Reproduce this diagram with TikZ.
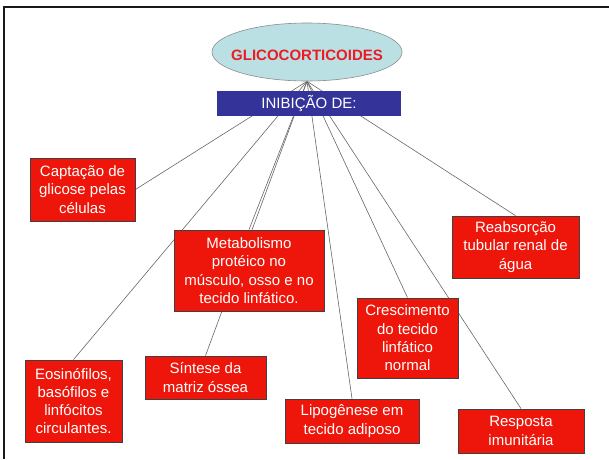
\documentclass[tikz,border=0pt]{standalone}
\usepackage{fontspec}
\setmainfont{Liberation Sans}
\usepackage{tikz}
\usetikzlibrary{shapes,positioning}
\definecolor{caixared}{RGB}{238,22,10}
\definecolor{titulored}{RGB}{236,28,36}
\definecolor{elipsecyan}{RGB}{186,224,227}
\definecolor{inibblue}{RGB}{51,51,153}
\pgfdeclarelayer{background}
\pgfsetlayers{background,main}

\begin{document}
\begin{tikzpicture}[x=1pt,y=-1pt]
    \tikzset{caixa/.style = {shape=rectangle,draw=black!75,line width=0.8pt,fill=caixared,
        text=white,align=center,inner sep=0pt,
        font=\fontsize{15}{18.3}\selectfont}}
    \tikzset{edge/.style = {draw=black!60,line width=0.6pt}}
    \useasboundingbox (0,0) rectangle (609,459);
    % moldura
    \draw[line width=2pt,black!90] (3.7,459) -- (3.7,7) -- (609,7);
    % vertices
    \node[ellipse,draw=black!45,line width=0.6pt,fill=elipsecyan,minimum width=190,minimum height=58,
        inner xsep=-9pt,inner ysep=0pt,text height=16pt,text depth=0pt,
        text=titulored,font=\fontsize{15}{18}\selectfont\bfseries] (0) at (307,52) {GLICOCORTICOIDES};
    \node[rectangle,fill=inibblue,text=white,minimum width=184,minimum height=25,inner sep=0pt,
        font=\fontsize{15}{18}\selectfont] (1) at (309,103.5) {INIBIÇÃO DE:};
    \node[caixa,minimum width=105,minimum height=63] (2) at (82.5,189.5) {Captação de\\ glicose pelas\\ células};
    \node[caixa,minimum width=150,minimum height=81] (3) at (249,270.5) {Metabolismo\\ protéico no\\ músculo, osso e no\\ tecido linfático.};
    \node[caixa,minimum width=127,minimum height=62] (4) at (515.5,247) {Reabsorção\\ tubular renal de\\ água};
    \node[caixa,minimum width=101,minimum height=80] (5) at (407.5,338) {Crescimento\\ do tecido\\ linfático\\ normal};
    \node[caixa,minimum width=97,minimum height=82] (6) at (73.5,401) {Eosinófilos,\\ basófilos e\\ linfócitos\\ circulantes.};
    \node[caixa,minimum width=121,minimum height=43] (7) at (205.5,377.5) {Síntese da\\ matriz óssea};
    \node[caixa,minimum width=134,minimum height=44] (8) at (352,421) {Lipogênese em\\ tecido adiposo};
    \node[caixa,minimum width=126,minimum height=44] (9) at (521,431) {Resposta\\ imunitária};
    % ligacoes
    \begin{pgfonlayer}{background}
    \draw[edge] (0.south) -- (2.east);
    \foreach \n in {3,...,9}
        \draw[edge] (0.south) -- (\n.north);
    \end{pgfonlayer}
\end{tikzpicture}
\end{document}
